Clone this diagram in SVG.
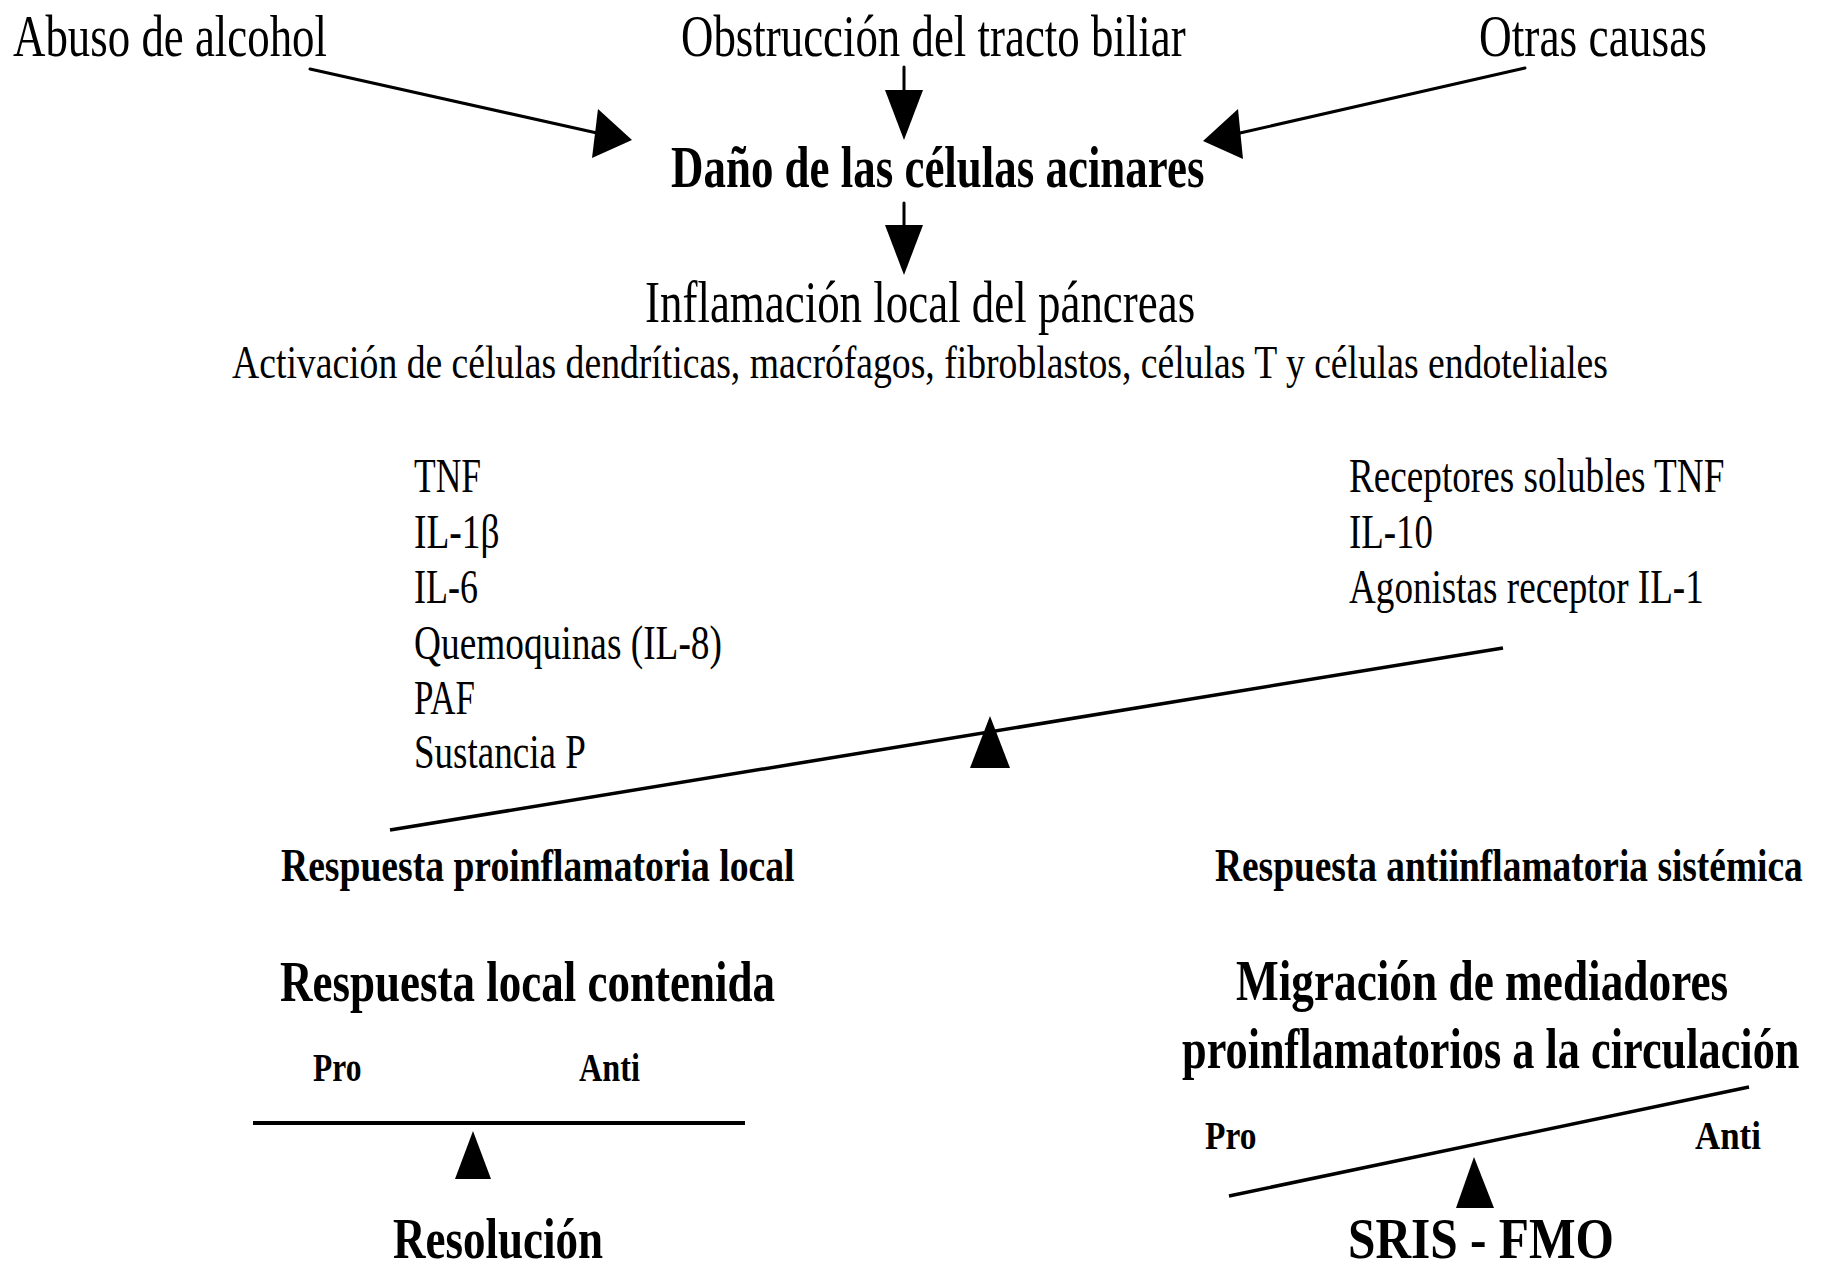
<svg xmlns="http://www.w3.org/2000/svg" width="1824" height="1272" viewBox="0 0 1824 1272">
<style>
  text { font-family: "Liberation Serif", "Times New Roman", serif; fill: #000; }
  .t60 { font-size: 60px; }
  .t48 { font-size: 48px; }
  .t46 { font-size: 46px; }
  .b { font-weight: bold; }
  .b46 { font-size: 46px; font-weight: bold; }
  .b58 { font-size: 58px; font-weight: bold; }
  .b40 { font-size: 40px; font-weight: bold; }
  .ln { stroke: #000; stroke-width: 3; fill: none; stroke-linecap: round; }
  .beam { stroke: #000; stroke-width: 3.5; fill: none; }
  .head { fill: #000; stroke: none; }
</style>
<rect x="0" y="0" width="1824" height="1272" fill="#fff"/>

<g id="connectors">
  <line class="ln" x1="310" y1="69" x2="597" y2="133"/>
  <polygon class="head" points="598,109 632,140 592,158"/>
  <line class="ln" x1="904" y1="67" x2="904" y2="92"/>
  <polygon class="head" points="885,90 923,90 904,140"/>
  <line class="ln" x1="1525" y1="68" x2="1240" y2="133"/>
  <polygon class="head" points="1238,109 1203,141 1243,159"/>
  <line class="ln" x1="904" y1="203" x2="904" y2="227"/>
  <polygon class="head" points="885,225 923,225 904,275"/>
</g>

<g id="n-abuso"><text class="t60" transform="translate(13,56) scale(0.748,1)">Abuso de alcohol</text></g>
<g id="n-obstruccion"><text class="t60" transform="translate(681,56) scale(0.748,1)">Obstrucción del tracto biliar</text></g>
<g id="n-otras"><text class="t60" transform="translate(1479,56) scale(0.756,1)">Otras causas</text></g>
<g id="n-dano"><text class="t60 b" transform="translate(671,187) scale(0.749,1)">Daño de las células acinares</text></g>
<g id="n-inflamacion">
  <text class="t60" transform="translate(645,322) scale(0.749,1)">Inflamación local del páncreas</text>
  <text class="t46" transform="translate(232,378) scale(0.819,1)">Activación de células dendríticas, macrófagos, fibroblastos, células T y células endoteliales</text>
</g>

<g id="n-pro-mediadores">
  <text class="t48" transform="translate(414,492) scale(0.739,1)">TNF</text>
  <text class="t48" transform="translate(414,548) scale(0.78,1)">IL-1β</text>
  <text class="t48" transform="translate(414,603) scale(0.75,1)">IL-6</text>
  <text class="t48" transform="translate(414,659) scale(0.778,1)">Quemoquinas (IL-8)</text>
  <text class="t48" transform="translate(414,714) scale(0.727,1)">PAF</text>
  <text class="t48" transform="translate(414,768) scale(0.772,1)">Sustancia P</text>
</g>
<g id="n-anti-mediadores">
  <text class="t48" transform="translate(1349,492) scale(0.775,1)">Receptores solubles TNF</text>
  <text class="t48" transform="translate(1349,548) scale(0.769,1)">IL-10</text>
  <text class="t48" transform="translate(1349,603) scale(0.774,1)">Agonistas receptor IL-1</text>
</g>

<g id="balance-1">
  <line class="beam" x1="390" y1="830" x2="1503" y2="648"/>
  <polygon class="head" points="990,716 1010,768 970,768"/>
</g>

<g id="n-resp-pro"><text class="b46" transform="translate(281,881) scale(0.818,1)">Respuesta proinflamatoria local</text></g>
<g id="n-resp-anti"><text class="b46" transform="translate(1215,881) scale(0.813,1)">Respuesta antiinflamatoria sistémica</text></g>

<g id="n-local-contenida">
  <text class="b58" transform="translate(280,1001) scale(0.776,1)">Respuesta local contenida</text>
  <text class="b40" transform="translate(313,1081) scale(0.788,1)">Pro</text>
  <text class="b40" transform="translate(579,1081) scale(0.807,1)">Anti</text>
  <line stroke="#000" stroke-width="4" x1="253" y1="1123" x2="745" y2="1123"/>
  <polygon class="head" points="473,1131 491,1179 455,1179"/>
  <text class="b58" transform="translate(393,1258) scale(0.776,1)">Resolución</text>
</g>

<g id="n-migracion">
  <text class="b58" transform="translate(1236,1000) scale(0.781,1)">Migración de mediadores</text>
  <text class="b58" transform="translate(1182,1068) scale(0.764,1)">proinflamatorios a la circulación</text>
  <text class="b40" transform="translate(1205,1149) scale(0.836,1)">Pro</text>
  <text class="b40" transform="translate(1695,1149) scale(0.873,1)">Anti</text>
  <line class="beam" x1="1229" y1="1196" x2="1749" y2="1087"/>
  <polygon class="head" points="1474,1157 1494,1208 1456,1208"/>
  <text class="b58" transform="translate(1348,1258) scale(0.851,1)">SRIS - FMO</text>
</g>
</svg>
